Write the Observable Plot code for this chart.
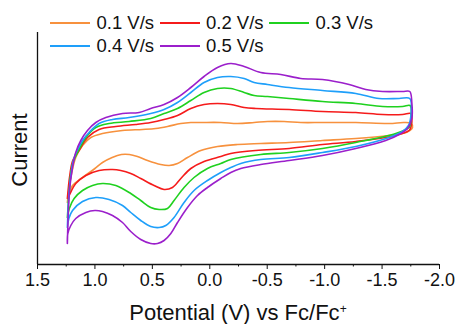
<!DOCTYPE html>
<html>
<head>
<meta charset="utf-8">
<script src="https://cdn.jsdelivr.net/npm/d3@7"></script>
<script src="https://cdn.jsdelivr.net/npm/@observablehq/plot@0.6"></script>
<style>
  html, body { margin: 0; padding: 0; background: #fff; }
  body { font-family: "Liberation Sans", Arial, Helvetica, sans-serif; }
  #wrap { position: relative; width: 457px; height: 324px; overflow: hidden; }
  #wrap svg { position: absolute; left: 0; top: 0; }
  .lg-line { position: absolute; height: 2px; }
  .lg-text { position: absolute; font-size: 18.5px; line-height: 18px; white-space: nowrap; color: #111; }
  #ylab { position: absolute; left: 20px; top: 150px; font-size: 22px; line-height: 22px; white-space: nowrap;
          transform: translate(-50%, -50%) rotate(-90deg); color: #111; }
  #xlab { position: absolute; left: 37px; width: 402px; top: 302px; text-align: center; font-size: 22px;
          line-height: 22px; white-space: nowrap; color: #111; }
  #xlab sup { font-size: 12px; vertical-align: 0; position: relative; top: -7px; }
</style>
</head>
<body>
<div id="wrap"></div>
<script>
// ---- data ----
const series = ["0.1 V/s", "0.2 V/s", "0.3 V/s", "0.4 V/s", "0.5 V/s"];
const colors = ["#F7913D", "#F51B1B", "#1FD11F", "#1E9FFA", "#9B1FCB"];
const xDomain = [1.5, -2.0];
const yDomain = [-124, 108];
const xTicks = [1.5, 1.0, 0.5, 0.0, -0.5, -1.0, -1.5, -2.0];
const xMinorTicks = [1.25, 0.75, 0.25, -0.25, -0.75, -1.25, -1.75];
const xTitle = "Potential (V) vs Fc/Fc";
const yTitle = "Current";

// [potential (V), current (a.u.)] — closed CV loops
const cv01 = [[1.24,-62],[1.21,-37],[1.167,-17],[1.108,-5],[1.036,3],[0.934,7],[0.76,10],[0.586,11],[0.47,12],[0.368,14],[0.252,17],[0.165,18],[0.078,18],[-0.096,18],[-0.241,17],[-0.386,18],[-0.502,19],[-0.647,19],[-0.792,18],[-0.981,18],[-1.271,18],[-1.561,17],[-1.692,18],[-1.755,17],[-1.765,13],[-1.741,10],[-1.678,7],[-1.561,5],[-1.271,2],[-0.981,0],[-0.691,-2],[-0.444,-3],[-0.241,-4],[-0.067,-6],[0.078,-10],[0.194,-17],[0.281,-23],[0.354,-25],[0.427,-24],[0.542,-20],[0.63,-16],[0.70,-14],[0.77,-14],[0.85,-17],[0.934,-22],[1.0,-28],[1.108,-37],[1.195,-45],[1.23,-55],[1.24,-62]];
const cv02 = [[1.24,-58],[1.219,-35],[1.193,-20],[1.138,-10],[1.065,3],[0.964,11],[0.818,14],[0.644,16],[0.514,18],[0.398,21],[0.281,25],[0.165,32],[0.05,36],[-0.067,37],[-0.183,36],[-0.299,33],[-0.401,32],[-0.691,31],[-0.981,29],[-1.271,28],[-1.504,26],[-1.678,26],[-1.75,27],[-1.759,18],[-1.75,13],[-1.735,10],[-1.619,5],[-1.271,-1],[-0.981,-4],[-0.691,-8],[-0.401,-10],[-0.183,-13],[-0.096,-16],[0.05,-21],[0.165,-28],[0.252,-38],[0.325,-47],[0.398,-49],[0.485,-45],[0.601,-38],[0.688,-33],[0.775,-30],[0.847,-29],[0.964,-30],[1.079,-35],[1.167,-43],[1.225,-55],[1.24,-58]];
const cv03 = [[1.24,-77],[1.223,-50],[1.206,-30],[1.184,-20],[1.152,-12],[1.079,3],[0.992,13],[0.877,17],[0.703,19],[0.514,22],[0.398,27],[0.281,32],[0.165,40],[0.05,48],[-0.067,52],[-0.183,52],[-0.299,48],[-0.386,45],[-0.502,44],[-0.691,42],[-0.981,39],[-1.271,37],[-1.504,34],[-1.678,34],[-1.744,35],[-1.755,25],[-1.746,16],[-1.735,13],[-1.619,7],[-1.271,-2],[-0.981,-8],[-0.691,-12],[-0.444,-14],[-0.183,-19],[-0.096,-23],[0.02,-28],[0.137,-37],[0.224,-47],[0.311,-60],[0.368,-68],[0.441,-69],[0.514,-67],[0.601,-60],[0.688,-53],[0.818,-45],[0.934,-43],[1.021,-45],[1.108,-50],[1.181,-58],[1.223,-68],[1.24,-77]];
const cv04 = [[1.24,-87],[1.227,-55],[1.21,-35],[1.188,-20],[1.167,-13],[1.108,0],[1.051,8],[0.964,17],[0.847,21],[0.703,23],[0.514,27],[0.398,31],[0.281,38],[0.165,48],[0.05,58],[-0.067,63],[-0.183,64],[-0.299,62],[-0.386,58],[-0.502,56],[-0.691,53],[-0.981,50],[-1.271,47],[-1.474,42],[-1.648,42],[-1.741,42],[-1.753,28],[-1.73,15],[-1.678,9],[-1.561,3],[-1.271,-6],[-0.981,-12],[-0.691,-17],[-0.444,-19],[-0.27,-23],[-0.183,-27],[-0.096,-32],[0.02,-40],[0.137,-50],[0.224,-62],[0.311,-77],[0.383,-85],[0.441,-87],[0.514,-86],[0.601,-80],[0.688,-72],[0.76,-65],[0.877,-59],[0.992,-57],[1.108,-61],[1.195,-70],[1.227,-78],[1.24,-87]];
const cv05 = [[1.24,-103],[1.23,-67],[1.219,-47],[1.195,-27],[1.167,-12],[1.123,0],[1.065,10],[0.992,18],[0.905,23],[0.76,27],[0.615,28],[0.514,32],[0.398,36],[0.281,43],[0.165,53],[0.05,64],[-0.067,73],[-0.183,77],[-0.299,74],[-0.444,68],[-0.618,66],[-0.792,62],[-0.981,61],[-1.213,56],[-1.358,51],[-1.504,49],[-1.678,49],[-1.741,49],[-1.759,38],[-1.759,22],[-1.721,12],[-1.648,6],[-1.532,0],[-1.271,-8],[-0.981,-15],[-0.691,-20],[-0.444,-24],[-0.27,-28],[-0.183,-32],[-0.096,-38],[0.02,-47],[0.107,-55],[0.194,-67],[0.281,-82],[0.339,-93],[0.398,-100],[0.455,-103],[0.514,-103],[0.601,-99],[0.688,-91],[0.76,-82],[0.847,-75],[0.934,-71],[1.0,-70],[1.079,-72],[1.167,-78],[1.21,-85],[1.236,-93],[1.24,-103]];

const loops = [cv01, cv02, cv03, cv04, cv05];
const rows = [];
loops.forEach((pts, k) => pts.forEach(([v, i]) => rows.push({v, i, s: series[k]})));

const chart = Plot.plot({
  width: 457,
  height: 324,
  marginLeft: 37,
  marginRight: 18,
  marginTop: 32,
  marginBottom: 60,
  style: {fontFamily: "Liberation Sans, Arial, sans-serif", fontSize: "18px", color: "#111", background: "transparent"},
  x: {domain: xDomain, ticks: xTicks, tickFormat: d => d.toFixed(1), tickSize: 5, tickPadding: 4, label: null},
  y: {domain: yDomain, axis: null},
  color: {domain: series, range: colors},
  marks: [
    Plot.ruleX(xMinorTicks, {y1: yDomain[0], y2: yDomain[0] - 2.5, stroke: "#111", strokeWidth: 1}),
    Plot.line(rows, {x: "v", y: "i", z: "s", stroke: "s", strokeWidth: 1.6, curve: "catmull-rom"}),
    Plot.ruleY([yDomain[0]], {stroke: "#111", strokeWidth: 1.3}),
    Plot.ruleX([xDomain[0]], {stroke: "#111", strokeWidth: 1.3})
  ]
});

const wrap = document.getElementById("wrap");
wrap.appendChild(chart);

// legend (two rows, three columns)
const rowY = [22.7, 45.5];
series.forEach((name, k) => {
  const col = k % 3, row = Math.floor(k / 3);
  const x0 = 50 + col * 109.5;
  const line = document.createElement("div");
  line.className = "lg-line";
  line.style.left = x0 + "px";
  line.style.width = "40px";
  line.style.top = Math.round(rowY[row] - 1) + "px";
  line.style.background = colors[k];
  wrap.appendChild(line);
  const t = document.createElement("div");
  t.className = "lg-text";
  t.style.left = (x0 + 46.5) + "px";
  t.style.top = (rowY[row] - 9) + "px";
  t.textContent = name;
  wrap.appendChild(t);
});

const yl = document.createElement("div");
yl.id = "ylab";
yl.textContent = yTitle;
wrap.appendChild(yl);

const xl = document.createElement("div");
xl.id = "xlab";
xl.innerHTML = xTitle + "<sup>+</sup>";
wrap.appendChild(xl);
</script>
</body>
</html>
